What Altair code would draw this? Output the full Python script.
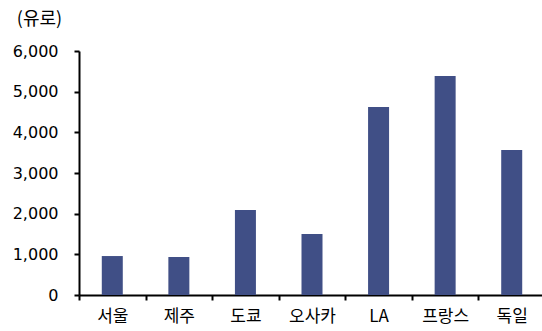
import altair as alt
import pandas as pd

cities = ["서울", "제주", "도쿄", "오사카", "LA", "프랑스", "독일"]
values = [958, 935, 2090, 1500, 4620, 5385, 3565]
y_ticks = [0, 1000, 2000, 3000, 4000, 5000, 6000]

df = pd.DataFrame({"city": cities, "value": values})

FONT = "Noto Sans CJK KR"
NUM_FONT = "DejaVu Sans"

chart = alt.Chart(df).mark_bar(color="#404F86", size=21).encode(
    x=alt.X("city:N", sort=cities, title=None,
            scale=alt.Scale(range=[0, 466], paddingInner=0, paddingOuter=0),
            axis=alt.Axis(labelAngle=0, tickBand="extent", domainColor="black",
                          domainWidth=2, tickColor="black", tickWidth=2, tickSize=5,
                          labelFont=FONT, labelFontSize=17, labelColor="black",
                          labelPadding=8, grid=False)),
    y=alt.Y("value:Q", title="(유로)",
            scale=alt.Scale(domain=[0, 6000], nice=False),
            axis=alt.Axis(values=y_ticks, format=",.0f", domainColor="black",
                          domainWidth=2, tickColor="black", tickWidth=2, tickSize=5,
                          labelFont=NUM_FONT, labelFontSize=16, labelColor="black",
                          labelPadding=16, grid=False,
                          titleAngle=0, titleX=-40, titleY=-32, titleAlign="center",
                          titleBaseline="middle", titleFont=FONT, titleFontSize=18,
                          titleFontWeight="normal", titleColor="black")),
).properties(
    width=463, height=244,
    autosize=alt.AutoSizeParams(type="none"),
    padding={"left": 79, "top": 51, "right": 0, "bottom": 36},
).configure_view(stroke=None)

chart.save("out.html", embed_options={"renderer": "svg", "actions": False})
